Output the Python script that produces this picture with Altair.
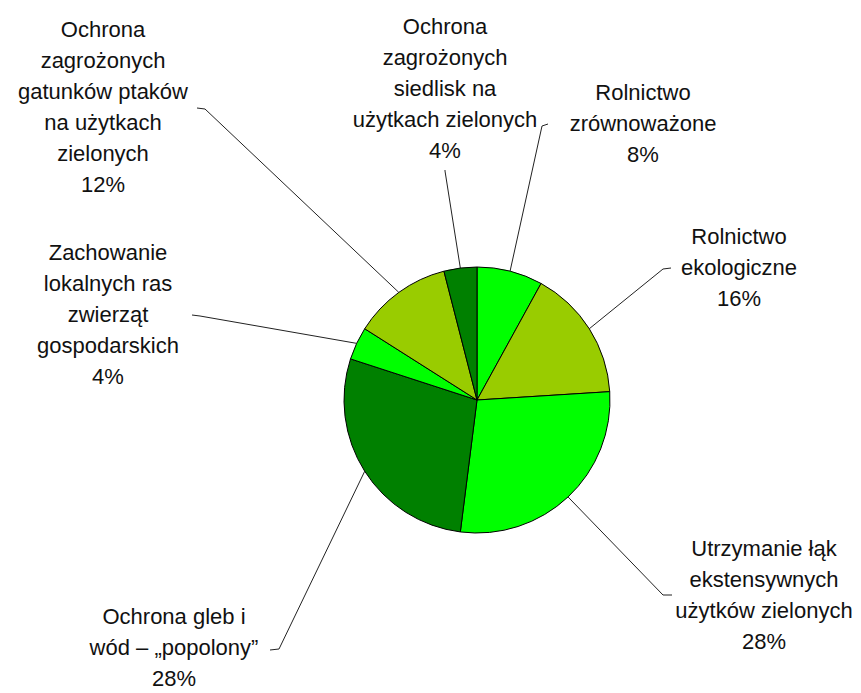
import math
import altair as alt
import pandas as pd

# ---- data ----
labels = [
    "Rolnictwo\nzrównoważone\n8%",
    "Rolnictwo\nekologiczne\n16%",
    "Utrzymanie łąk\nekstensywnych\nużytków zielonych\n28%",
    "Ochrona gleb i\nwód – „popolony”\n28%",
    "Zachowanie\nlokalnych ras\nzwierząt\ngospodarskich\n4%",
    "Ochrona\nzagrożonych\ngatunków ptaków\nna użytkach\nzielonych\n12%",
    "Ochrona\nzagrożonych\nsiedlisk na\nużytkach zielonych\n4%",
]
values = [8, 16, 28, 28, 4, 12, 4]
colors = ["#00FF00", "#99CC00", "#00FF00", "#008000", "#00FF00", "#99CC00", "#008000"]

# ---- layout (page pixel coordinates) ----
MARGIN = 8
W, H = 845, 685
CX, CY, R = 477, 400, 133
label_x = [643, 739, 764, 174, 108, 103, 445]
label_y = [93, 237, 549, 617, 253, 30, 27]
elbow_x = [542, 663, 663, 279, 200, 205, 445]
elbow_y = [126, 269, 595, 649, 316, 109, 171]
end_x = [548, 671, 672, 270, 192, 197, 445]
end_y = [124, 268, 595, 650, 315, 108, 170]

names = [l.replace("\n", " ") for l in labels]
slices = pd.DataFrame({"idx": range(len(values)), "name": names, "value": values, "color": colors})

total = sum(values)
rows = []
cum = 0
for i, v in enumerate(values):
    mid = (cum + v / 2) / total * 2 * math.pi
    cum += v
    ex = CX + R * math.sin(mid)
    ey = CY - R * math.cos(mid)
    rows += [
        {"name": names[i], "k": 0, "px": ex, "py": ey},
        {"name": names[i], "k": 1, "px": elbow_x[i], "py": elbow_y[i]},
        {"name": names[i], "k": 2, "px": end_x[i], "py": end_y[i]},
    ]
leaders = pd.DataFrame(rows)

texts = pd.DataFrame({"label": labels, "lx": label_x, "ly": label_y})

xs = alt.Scale(domain=[MARGIN, MARGIN + W], nice=False, zero=False)
ys = alt.Scale(domain=[MARGIN, MARGIN + H], nice=False, zero=False, reverse=True)

pie = alt.Chart(slices).mark_arc(outerRadius=R, stroke="black", strokeWidth=1).encode(
    theta=alt.Theta("value:Q", stack=True),
    order=alt.Order("idx:Q"),
    color=alt.Color("color:N", scale=None),
    x=alt.value(CX - MARGIN),
    y=alt.value(CY - MARGIN),
)

lines = alt.Chart(leaders).mark_line(color="#222222", strokeWidth=1).encode(
    x=alt.X("px:Q", scale=xs, axis=None),
    y=alt.Y("py:Q", scale=ys, axis=None),
    detail="name:N",
    order="k:Q",
)

text = alt.Chart(texts).transform_calculate(
    lines="split(datum.label, '\\n')"
).mark_text(
    align="center", baseline="middle", fontSize=22, font="Liberation Sans",
    lineHeight=31, color="#111111"
).encode(
    x=alt.X("lx:Q", scale=xs, axis=None),
    y=alt.Y("ly:Q", scale=ys, axis=None),
    text="lines:N",
)

chart = alt.layer(lines, pie, text).properties(
    width=W, height=H, autosize=alt.AutoSizeParams(type="none"), padding=0
).configure_view(stroke=None)

chart.save("out.html", embed_options={"renderer": "svg", "actions": False})
